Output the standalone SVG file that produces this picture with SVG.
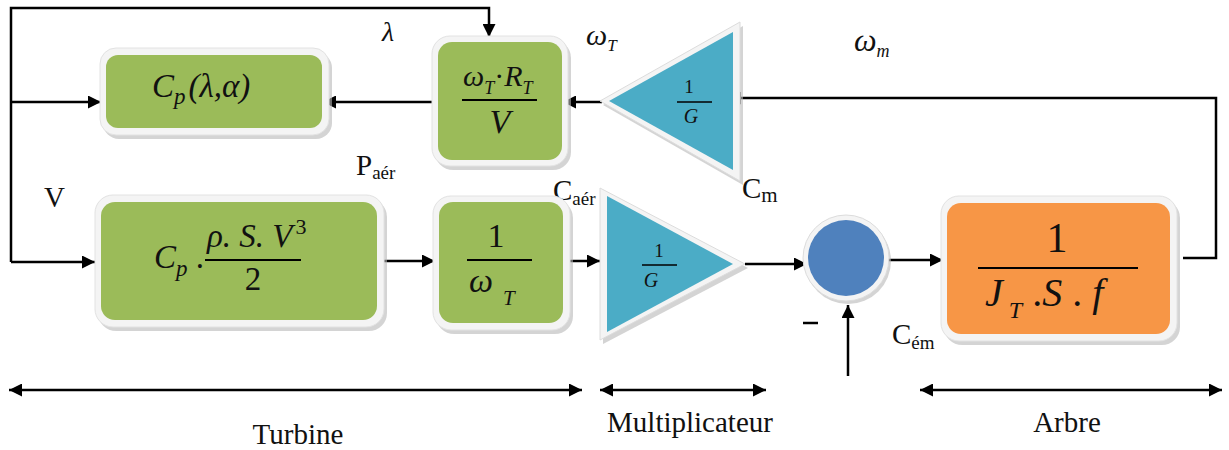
<svg xmlns="http://www.w3.org/2000/svg" width="1229" height="450" viewBox="0 0 1229 450">
<defs>
<marker id="ah" viewBox="0 0 10 10" refX="10" refY="5" markerWidth="14" markerHeight="13" markerUnits="userSpaceOnUse" orient="auto-start-reverse">
<path d="M0,0 L10,5 L0,10 z" fill="#000"/>
</marker>
</defs>
<rect width="1229" height="450" fill="#fff"/>

<g id="connectors" fill="none" stroke="#000" stroke-width="2.5">
<path d="M11,262 V8 H489 V37" marker-end="url(#ah)"/>
<path d="M11,262 H95" marker-end="url(#ah)"/>
<path d="M11,102 H101" marker-end="url(#ah)"/>
<path d="M434,102 H323" marker-end="url(#ah)"/>
<path d="M602,102 H563" marker-end="url(#ah)"/>
<path d="M1183,258 H1216 V98 H728" marker-end="url(#ah)"/>
<path d="M380,261 H435" marker-end="url(#ah)"/>
<path d="M566,261 H600" marker-end="url(#ah)"/>
<path d="M745,264 H807" marker-end="url(#ah)"/>
<path d="M887,260 H943" marker-end="url(#ah)"/>
<path d="M848,376 V305" marker-end="url(#ah)"/>
<path d="M803,323 H818"/>
<path d="M9,390 H582" marker-start="url(#ah)" marker-end="url(#ah)"/>
<path d="M600,390 H766" marker-start="url(#ah)" marker-end="url(#ah)"/>
<path d="M920,390 H1222" marker-start="url(#ah)" marker-end="url(#ah)"/>
</g>

<g id="labels" fill="#111">
<text font-family="Liberation Serif" font-style="italic" x="382" y="41" font-size="28">λ</text>
<text font-family="Liberation Serif" font-style="italic" x="586" y="45" font-size="30">ω<tspan font-size="17" dy="6">T</tspan></text>
<text font-family="Liberation Serif" font-style="italic" x="854" y="51" font-size="32">ω<tspan font-size="18" dy="6">m</tspan></text>
<text font-family="Liberation Serif" x="356" y="175" font-size="29">P<tspan font-size="19" dy="4">aér</tspan></text>
<text font-family="Liberation Serif" x="44" y="207" font-size="29">V</text>
<text font-family="Liberation Serif" x="553" y="200" font-size="29">C<tspan font-size="19" dy="5">aér</tspan></text>
<text font-family="Liberation Serif" x="742" y="198" font-size="29">C<tspan font-size="21" dy="4">m</tspan></text>
<text font-family="Liberation Serif" x="892" y="344" font-size="29">C<tspan font-size="19" dy="5">ém</tspan></text>
<text font-family="Liberation Serif" x="298" y="444" font-size="29" text-anchor="middle">Turbine</text>
<text font-family="Liberation Serif" x="690" y="432" font-size="29" text-anchor="middle">Multiplicateur</text>
<text font-family="Liberation Serif" x="1067" y="432" font-size="29" text-anchor="middle">Arbre</text>
</g>

<g id="cp_lambda_alpha" fill="#111">
<rect x="103" y="52" width="229" height="87" rx="16" fill="#b8b8b8" opacity="0.6"/>
<rect x="100" y="48" width="229" height="87" rx="16" fill="#f4f4f4" stroke="#e2e2e2"/>
<rect x="106" y="55" width="216" height="73" rx="12" fill="#9bbb59"/>
<text font-family="Liberation Serif" font-style="italic" x="152" y="97" font-size="33">C<tspan font-size="23" dy="7">p</tspan><tspan dy="-7" dx="3">(λ,α)</tspan></text>
</g>

<g id="lambda_block" fill="#111">
<rect x="435" y="40" width="136" height="130" rx="18" fill="#b8b8b8" opacity="0.6"/>
<rect x="432" y="36" width="136" height="130" rx="18" fill="#f4f4f4" stroke="#e2e2e2"/>
<rect x="438" y="42" width="124" height="118" rx="14" fill="#9bbb59"/>
<text font-family="Liberation Serif" font-style="italic" x="463" y="86" font-size="30">ω<tspan font-size="18" dy="8">T</tspan><tspan dy="-8" font-style="normal">·</tspan>R<tspan font-size="18" dy="8">T</tspan></text>
<line x1="462" y1="100" x2="537" y2="100" stroke="#000" stroke-width="1.8"/>
<text font-family="Liberation Serif" font-style="italic" x="500" y="133" font-size="34" text-anchor="middle">V</text>
</g>

<g id="gain_feedback" fill="#111">
<polygon points="603,105 743,26 743,185" fill="#b8b8b8" opacity="0.6"/>
<polygon points="600,101 740,22 740,181" fill="#f4f4f4" stroke="#dcdcdc"/>
<polygon points="609,101 733,32 733,170" fill="#4bacc6"/>
<text font-family="Liberation Serif" x="689" y="93" font-size="19" text-anchor="middle">1</text>
<line x1="677" y1="102" x2="712" y2="102" stroke="#000" stroke-width="1.4"/>
<text font-family="Liberation Serif" font-style="italic" x="691" y="123" font-size="20" text-anchor="middle">G</text>
</g>

<g id="power_block" fill="#111">
<rect x="98" y="199" width="289" height="132" rx="18" fill="#b8b8b8" opacity="0.6"/>
<rect x="95" y="195" width="289" height="132" rx="18" fill="#f4f4f4" stroke="#e2e2e2"/>
<rect x="101" y="202" width="276" height="118" rx="14" fill="#9bbb59"/>
<text font-family="Liberation Serif" font-style="italic" x="154" y="268" font-size="33">C<tspan font-size="23" dy="8">p</tspan><tspan dy="-8" font-style="normal"> .</tspan></text>
<text font-family="Liberation Serif" font-style="italic" x="207" y="247" font-size="33">ρ. S. V<tspan font-size="22" dy="-13" dx="3" font-style="normal">3</tspan></text>
<line x1="205" y1="260" x2="301" y2="260" stroke="#000" stroke-width="1.8"/>
<text font-family="Liberation Serif" x="253" y="290" font-size="33" text-anchor="middle">2</text>
</g>

<g id="inv_omega_block" fill="#111">
<rect x="436" y="200" width="137" height="134" rx="18" fill="#b8b8b8" opacity="0.6"/>
<rect x="433" y="196" width="137" height="134" rx="18" fill="#f4f4f4" stroke="#e2e2e2"/>
<rect x="439" y="202" width="124" height="121" rx="14" fill="#9bbb59"/>
<text font-family="Liberation Serif" x="496" y="247" font-size="34" text-anchor="middle">1</text>
<line x1="467" y1="260" x2="532" y2="260" stroke="#000" stroke-width="1.8"/>
<text font-family="Liberation Serif" font-style="italic" x="469" y="292" font-size="34">ω<tspan font-size="21" dx="10" dy="13">T</tspan></text>
</g>

<g id="gain_forward" fill="#111">
<polygon points="603,192 603,344 748,268" fill="#b8b8b8" opacity="0.6"/>
<polygon points="600,188 600,340 745,264" fill="#f4f4f4" stroke="#dcdcdc"/>
<polygon points="607,196 607,332 733,264" fill="#4bacc6"/>
<text font-family="Liberation Serif" x="659" y="257" font-size="19" text-anchor="middle">1</text>
<line x1="642" y1="265" x2="677" y2="265" stroke="#000" stroke-width="1.4"/>
<text font-family="Liberation Serif" font-style="italic" x="651" y="287" font-size="20" text-anchor="middle">G</text>
</g>

<g id="sum_node">
<circle cx="848" cy="261" r="43" fill="#b8b8b8" opacity="0.6"/>
<circle cx="846" cy="258" r="43" fill="#f4f4f4" stroke="#dcdcdc"/>
<circle cx="846" cy="258" r="38" fill="#4f81bd"/>
</g>

<g id="shaft_block" fill="#111">
<rect x="944" y="200" width="236" height="145" rx="18" fill="#b8b8b8" opacity="0.6"/>
<rect x="941" y="196" width="236" height="145" rx="18" fill="#f4f4f4" stroke="#e2e2e2"/>
<rect x="947" y="203" width="223" height="131" rx="14" fill="#f79646"/>
<text font-family="Liberation Serif" x="1057" y="252" font-size="42" text-anchor="middle">1</text>
<line x1="978" y1="268" x2="1138" y2="268" stroke="#000" stroke-width="2"/>
<text font-family="Liberation Serif" font-style="italic" x="985" y="306" font-size="40">J<tspan font-size="24" dx="6" dy="12">T</tspan><tspan dy="-12" font-style="normal"> .</tspan>S<tspan font-style="normal"> .</tspan> f</text>
</g>
</svg>
